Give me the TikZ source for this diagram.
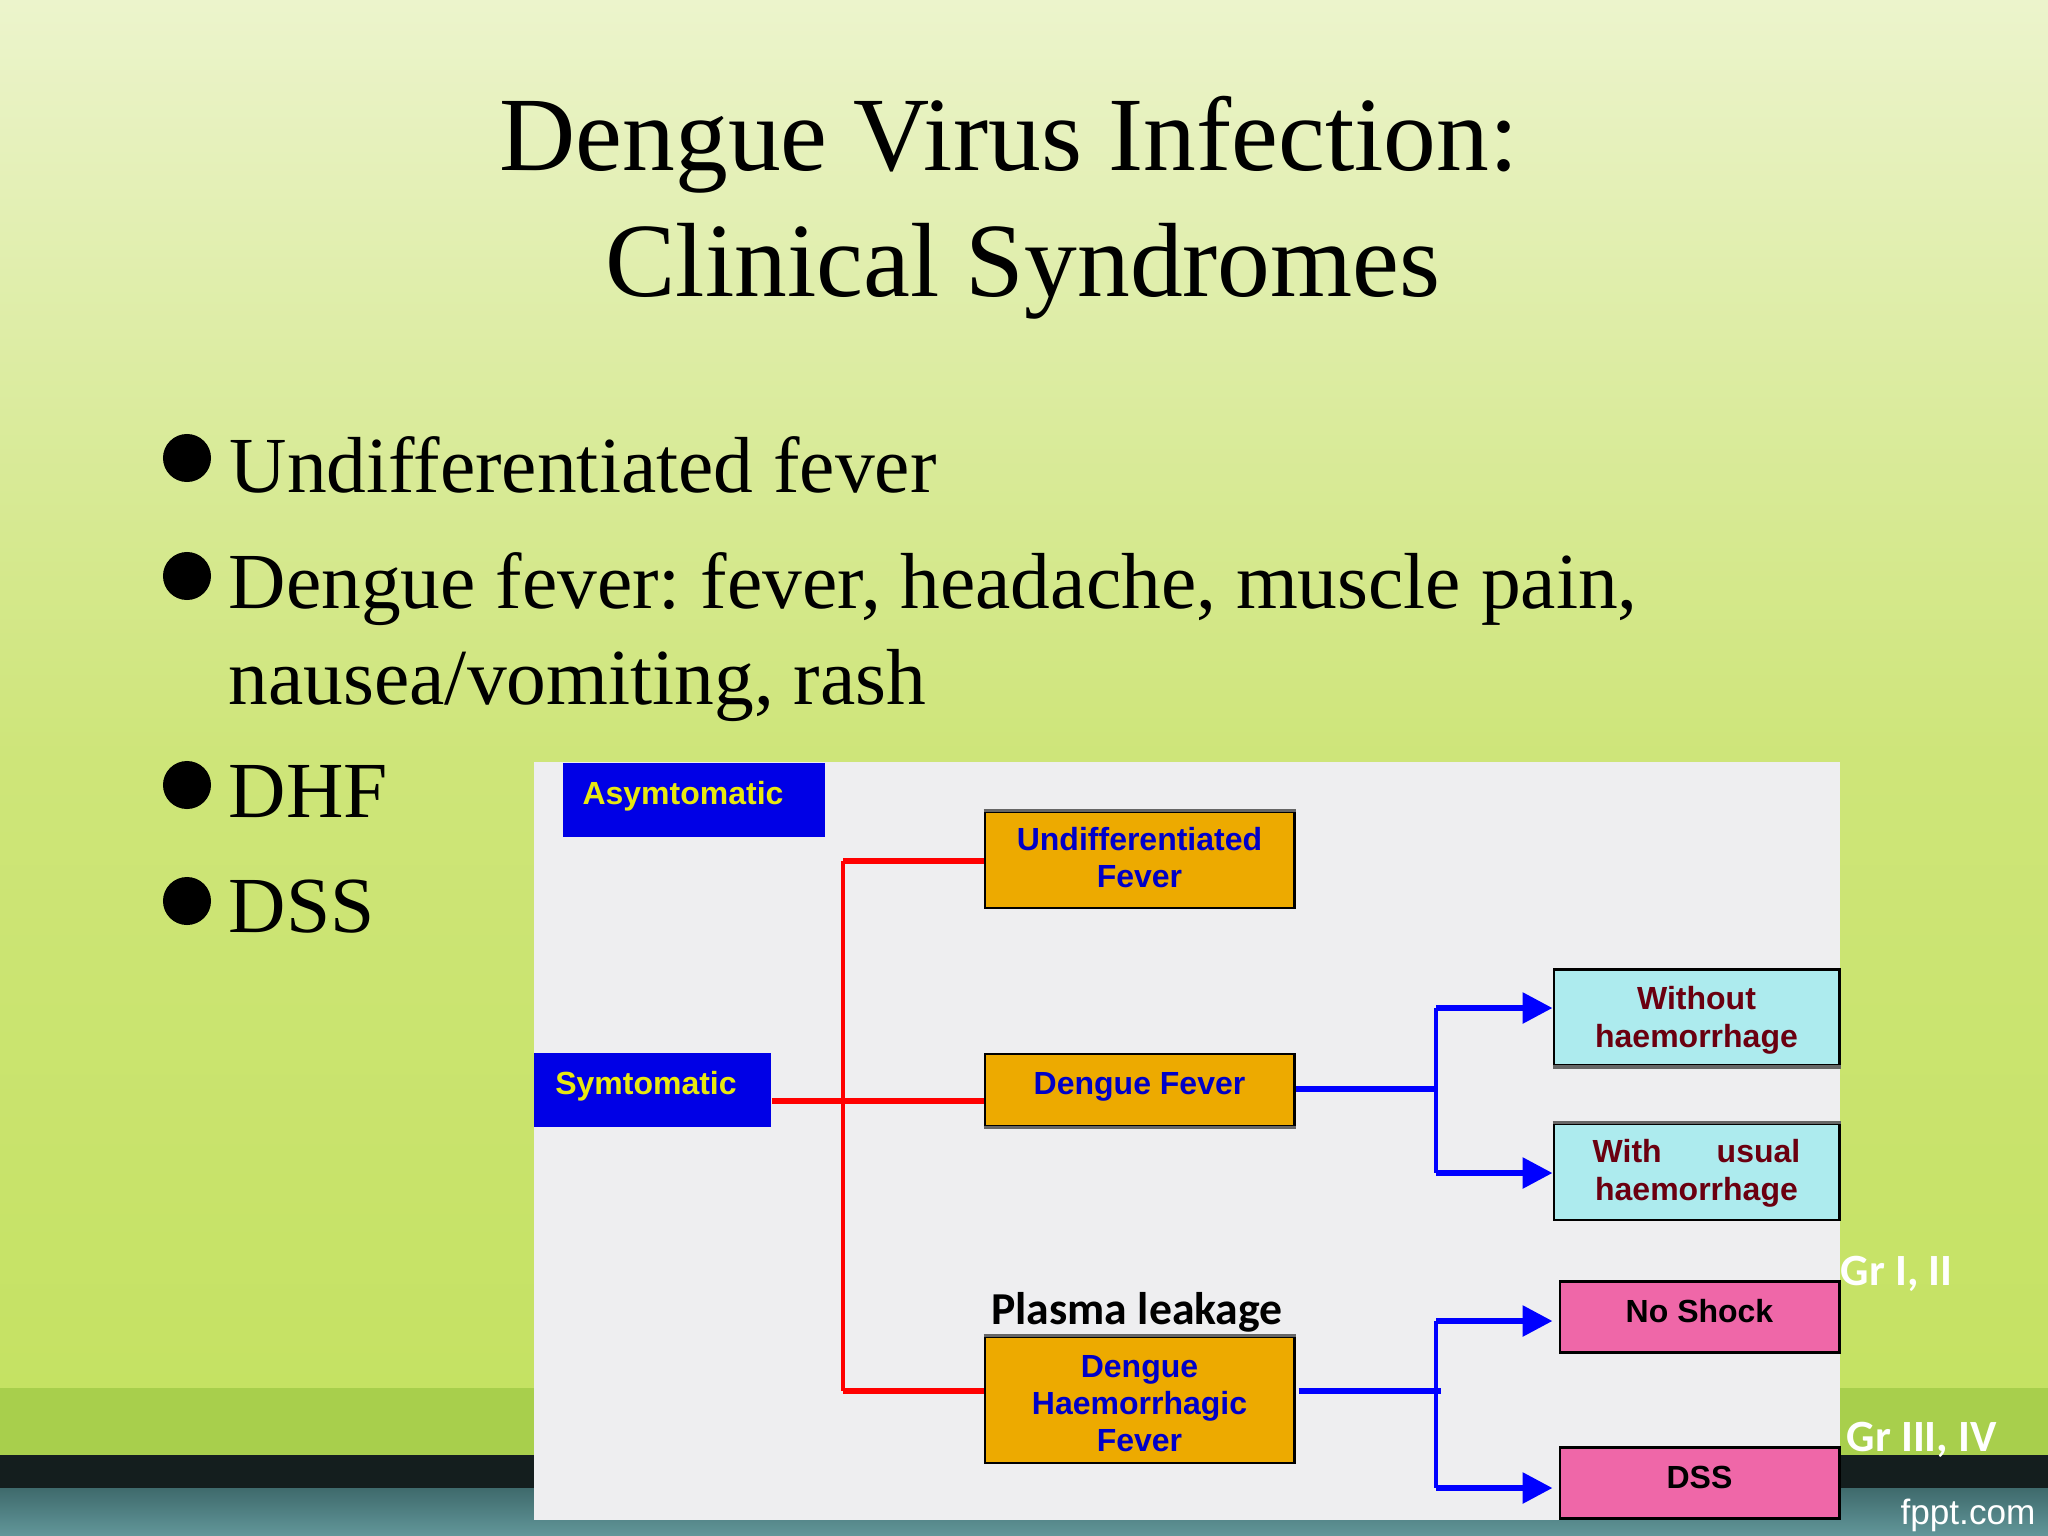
\documentclass[tikz,border=0pt]{standalone}
\usepackage{fontspec}
\setmainfont{Liberation Serif}
\newfontfamily\boxfont{Liberation Sans}
\newfontfamily\notefont{Carlito}
\usetikzlibrary{arrows.meta}
\frenchspacing
\definecolor{skytop}{HTML}{ECF4CC}
\definecolor{skyupper}{HTML}{DAEB9C}
\definecolor{skymid}{HTML}{CEE579}
\definecolor{skylow}{HTML}{C5E263}
\definecolor{bandgreen}{HTML}{A8CF4C}
\definecolor{darkstrip}{HTML}{141E1E}
\definecolor{tealtop}{HTML}{3F6A6C}
\definecolor{tealbottom}{HTML}{62979A}
\definecolor{panelgrey}{HTML}{EEEEF0}
\definecolor{tagblue}{HTML}{0000E6}
\definecolor{tagyellow}{HTML}{E8E810}
\definecolor{boxorange}{HTML}{EDAA00}
\definecolor{stageblue}{HTML}{0000C8}
\definecolor{boxcyan}{HTML}{ADEBEE}
\definecolor{maroontext}{HTML}{6B0010}
\definecolor{boxpink}{HTML}{EF67A8}
\tikzset{
	titletext/.style={anchor=base, inner sep=0pt, font=\fontsize{30}{36}\selectfont},
	bullettext/.style={anchor=base west, inner sep=0pt, font=\fontsize{22.6}{27}\selectfont},
	bulletdot/.style={circle, fill=black, inner sep=0pt, minimum size=0.48cm},
	tagbox/.style={fill=tagblue, text=tagyellow, inner sep=0pt, minimum height=0.74cm, font=\boxfont\bfseries\fontsize{9.1}{11}\selectfont},
	stagebox/.style={draw=black, line width=0.8pt, fill=boxorange, text=stageblue, inner sep=0pt, minimum width=3.09cm, align=center, font=\boxfont\bfseries\fontsize{9.1}{10.4}\selectfont},
	bleedbox/.style={draw=black, line width=0.8pt, fill=boxcyan, text=maroontext, inner sep=0pt, minimum width=2.85cm, minimum height=0.96cm, align=center, font=\boxfont\bfseries\fontsize{9.1}{10.8}\selectfont},
	shockbox/.style={draw=black, line width=0.8pt, fill=boxpink, text=black, inner sep=0pt, minimum width=2.79cm, minimum height=0.71cm, font=\boxfont\bfseries\fontsize{9.1}{11}\selectfont},
	whitenote/.style={text=white, inner sep=0pt, font=\notefont\bfseries\fontsize{12.7}{14}\selectfont},
	greyedge/.style={draw=black!60, line width=0.035cm},
	redwire/.style={draw=red, line width=0.06cm},
	redtrunk/.style={draw=red, line width=0.035cm},
	bluewire/.style={draw=blue, line width=0.06cm},
	bluetrunk/.style={draw=blue, line width=0.04cm},
	bluearrow/.style={bluewire, -{Triangle[length=0.3cm, width=0.3cm]}},
}
\begin{document}
\begin{tikzpicture}[x=0.01cm, y=-0.01cm]
	\useasboundingbox (0,0) rectangle (2048,1536);
	% slide background
	\shade [top color=skytop, bottom color=skyupper] (0,0) rectangle (2048,420);
	\shade [top color=skyupper, bottom color=skymid] (0,420) rectangle (2048,760);
	\shade [top color=skymid, bottom color=skylow] (0,760) rectangle (2048,1388);
	\fill [bandgreen] (0,1388) rectangle (2048,1455);
	\fill [darkstrip] (0,1455) rectangle (2048,1488);
	\shade [top color=tealtop, bottom color=tealbottom] (0,1488) rectangle (2048,1536);
	\node [text=white, inner sep=0pt, font=\boxfont\fontsize{10}{12}\selectfont] (site) at (1968,1515) {fppt.com};

	\node [titletext] (titlea) at (1009,170) {Dengue Virus Infection:};
	\node [titletext] (titleb) at (1023,296) {Clinical Syndromes};

	\node [bulletdot] (dota) at (187,458) {};
	\node [bulletdot] (dotb) at (187,576) {};
	\node [bulletdot] (dotc) at (187,785) {};
	\node [bulletdot] (dotd) at (187,901) {};
	\node [bullettext] (undiff) at (229,492) {Undifferentiated fever};
	\node [bullettext] (fever) at (228,608) {Dengue fever: fever, headache, muscle pain,};
	\node [bullettext] (nausea) at (228,704) {nausea/vomiting, rash};
	\node [bullettext] (dhf) at (228,817) {DHF};
	\node [bullettext] (dss) at (228,932) {DSS};

	% chart
	\fill [panelgrey] (534,762) rectangle (1840,1520);
	\node [tagbox, minimum width=2.62cm, text depth=0.14cm] (asym) at (694,800) {Asymtomatic\kern0.22cm};
	\node [tagbox, minimum width=2.37cm, text depth=0.14cm] (sym) at (652.5,1090) {Symtomatic\kern0.13cm};
	\node [stagebox, minimum height=0.96cm] (ufbox) at (1139.5,860) {Undifferentiated\\Fever\rule[-1.5pt]{0pt}{0pt}};
	\node [stagebox, minimum height=0.72cm, text depth=0.14cm] (dfbox) at (1139.5,1090) {Dengue Fever};
	\node [stagebox, minimum height=1.26cm] (dhfbox) at (1139.5,1400) {\rule{0pt}{8.3pt}Dengue\\Haemorrhagic\\Fever};
	\node [bleedbox] (nobleed) at (1696.5,1017.5) {\rule{0pt}{8pt}Without\\haemorrhage};
	\node [bleedbox] (bleed) at (1696.5,1172) {\rule{0pt}{7.5pt}With\hspace{0.55cm}usual\\haemorrhage};
	\node [shockbox, text depth=0.12cm] (noshock) at (1699.5,1317) {No Shock};
	\node [shockbox, text depth=0.12cm] (shock) at (1699.5,1483) {DSS};
	\node [inner sep=0pt, font=\notefont\bfseries\fontsize{13}{15}\selectfont] (leak) at (1137,1312) {Plasma leakage};
	\node [whitenote, anchor=west] (gra) at (1840,1274) {Gr I, II};
	\node [whitenote, anchor=west] (grb) at (1846,1440) {Gr III, IV};

	\draw [greyedge] (ufbox.north west) -- (ufbox.north east);
	\draw [greyedge] (dfbox.south west) -- (dfbox.south east);
	\draw [greyedge] (dhfbox.north west) -- (dhfbox.north east);
	\draw [greyedge] (nobleed.south west) -- (nobleed.south east);
	\draw [greyedge] (bleed.north west) -- (bleed.north east);

	\coordinate (redtop) at (843,861);
	\coordinate (redmid) at (843,1101);
	\coordinate (redlow) at (843,1391);
	\draw [redtrunk] (redtop) -- (redlow);
	\draw [redwire] (redtop) -- (ufbox.west |- redtop);
	\draw [redwire] (sym.east |- redmid) -- (dfbox.west |- redmid);
	\draw [redwire] (redlow) -- (dhfbox.west |- redlow);

	\coordinate (bluea) at (1436,1089);
	\coordinate (blueb) at (1436,1391);
	\draw [bluewire] (dfbox.east |- bluea) -- (bluea);
	\draw [bluewire] ([xshift=0.03cm]dhfbox.east |- blueb) -- ([xshift=0.05cm]blueb);
	\draw [bluearrow] (1436,1008) coordinate (upa) -- (nobleed.west |- upa);
	\draw [bluearrow] (1436,1173) coordinate (lowa) -- (nobleed.west |- lowa);
	\draw [bluearrow] (1436,1321) coordinate (upb) -- (nobleed.west |- upb);
	\draw [bluearrow] (1436,1488) coordinate (lowb) -- (nobleed.west |- lowb);
	\draw [bluetrunk] (upa) -- (lowa);
	\draw [bluetrunk] (upb) -- (lowb);
\end{tikzpicture}
\end{document}
